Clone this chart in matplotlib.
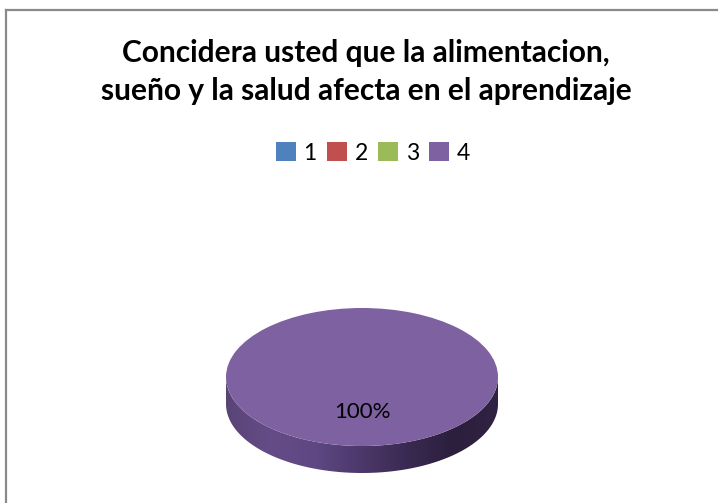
import numpy as np
import matplotlib
matplotlib.use("Agg")
import matplotlib.pyplot as plt
from matplotlib.patches import Polygon
from matplotlib.lines import Line2D
from matplotlib.colors import LinearSegmentedColormap

categories = ["1", "2", "3", "4"]
values = [0, 0, 0, 100]
colors = ["#4F81BD", "#C0504D", "#9BBB59", "#7E61A0"]
title = "Concidera usted que la alimentacion,\nsueño y la salud afecta en el aprendizaje"

W, H = 718, 503
fig = plt.figure(figsize=(W / 100, H / 100), dpi=100)
fig.patch.set_facecolor("white")

# border (top and left visible)
fig.add_artist(Line2D([6 / W, 1], [1 - 9.5 / H, 1 - 9.5 / H], color="#8a8a8a", lw=1.6))
fig.add_artist(Line2D([6 / W, 6 / W], [1 - 9.5 / H, 0], color="#8a8a8a", lw=1.6))

# pie geometry in pixels: top face centre and semi-axes
cx, cy, rx, ry, depth = 362, 377, 136, 69, 27
xl, yl_lo, yl_hi = 1.3, -1.75, 1.25
ax_w = rx * 2 * xl
ax_h = ry * (yl_hi - yl_lo)
left = (cx - rx * xl) / W
bottom = (H - (cy + ry * (-yl_lo))) / H
ax = fig.add_axes([left, bottom, ax_w / W, ax_h / H])
ax.axis("off")

d = depth / ry
# side band of the 3D pie, gradient clipped to the band shape
t = np.linspace(np.pi, 2 * np.pi, 200)
upper = np.column_stack([np.cos(t), np.sin(t)])
lower = np.column_stack([np.cos(t[::-1]), np.sin(t[::-1]) - d])
band = Polygon(np.vstack([upper, lower]), closed=True, facecolor="none", edgecolor="none")
ax.add_patch(band)
side_cmap = LinearSegmentedColormap.from_list(
    "side", ["#594476", "#654c88", "#5e4782", "#4c386a", "#3a2a52", "#2c1f3d", "#302242"])
grad = np.linspace(0, 1, 256).reshape(1, -1)
im = ax.imshow(grad, cmap=side_cmap, extent=(-1, 1, -1 - d, 0.1), aspect="auto", zorder=1)
im.set_clip_path(band)

wedges, texts, autotexts = ax.pie(
    values, colors=colors, startangle=90, counterclock=True,
    autopct=lambda p: f"{p:.0f}%" if p > 0 else "",
    pctdistance=0.5, radius=1, wedgeprops=dict(linewidth=0),
    textprops=dict(fontsize=16, family="Lato", color="black"))
for w in wedges:
    w.set_zorder(2)
for a in autotexts:
    a.set_zorder(3)
ax.set_xlim(-xl, xl)
ax.set_ylim(yl_lo, yl_hi)
ax.set_aspect("auto")

fig.text(366 / W, 1 - 72 / H, title, ha="center", va="center", fontsize=21.5,
         fontweight="bold", family="Lato", linespacing=1.45)

fig.legend(wedges, categories, loc="center", bbox_to_anchor=(373 / W, 1 - 153 / H),
           ncol=4, frameon=False, handlelength=0.85, handleheight=0.85,
           handletextpad=0.35, columnspacing=0.45, prop=dict(family="Lato", size=16.5))

fig.savefig("out.png", dpi=100, facecolor="white")
